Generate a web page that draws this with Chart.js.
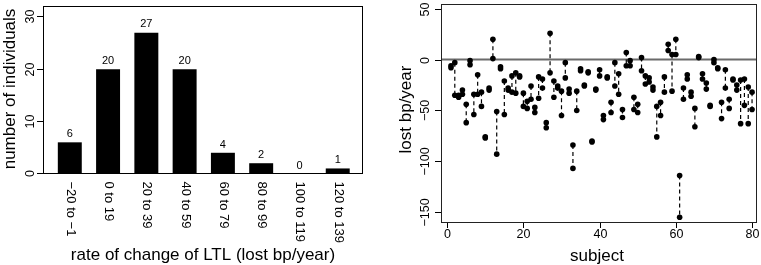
<!DOCTYPE html>
<html>
<head>
<meta charset="utf-8">
<script src="https://cdn.jsdelivr.net/npm/chart.js@4/dist/chart.umd.min.js"></script>
<style>
  html, body { margin: 0; padding: 0; background: #fff; }
  body { width: 761px; height: 265px; position: relative; overflow: hidden; }
  canvas { position: absolute; top: 0; }
  #left { left: 0; }
  #right { left: 380px; }
</style>
</head>
<body>
<canvas id="left" width="380" height="265"></canvas>
<canvas id="right" width="381" height="265"></canvas>
<script>
// ---------- data: left histogram ----------
const categories = ['\u221220 to \u22121', '0 to 19', '20 to 39', '40 to 59', '60 to 79', '80 to 99', '100 to 119', '120 to 139'];
const counts = [6, 20, 27, 20, 4, 2, 0, 1];
const countTicks = [0, 10, 20, 30];

// ---------- data: right scatter ----------
const subjects = [1,2,3,4,5,6,7,8,9,10,11,12,13,14,15,16,17,18,19,20,
  21,22,23,24,25,26,27,28,29,30,31,32,33,34,35,36,37,38,39,40,
  41,42,43,44,45,46,47,48,49,50,51,52,53,54,55,56,57,58,59,60,
  61,62,63,64,65,66,67,68,69,70,71,72,73,74,75,76,77,78,79,80];
const lostA = [-6,-3,-35,-30,-44,-1,-34,-15,-32,-76,-28,20,-51,-7,-21,-28,-16,-13,-16,-33,
  -41,-26,-47,-17,-19,-62,26,-21,-26,-31,-3,-29,-84,-31,-9,-25,-12,-80,-29,-10,
  -55,-17,-42,-3,-14,-49,7,-1,-37,-44,2,-16,-18,-27,-46,-42,-17,15,5,20,
  -114,-28,-15,-32,-48,3,-14,-23,-45,0,-8,-42,-10,-39,-19,-25,-20,-19,-27,-32];
const lostB = [-8,-35,-37,-34,-62,-5,-54,-34,-46,-77,-30,1,-93,-9,-54,-30,-32,-33,-17,-46,
  -48,-39,-52,-38,-28,-67,-13,-37,-28,-55,-18,-33,-107,-50,-11,-26,-13,-81,-30,-16,
  -59,-18,-52,-26,-34,-57,-6,-6,-49,-52,-11,-24,-22,-30,-76,-55,-32,9,-31,5,
  -155,-39,-19,-36,-66,2,-19,-29,-46,-3,-9,-58,-28,-48,-20,-30,-63,-45,-63,-49];
const lostTicks = [-150, -100, -50, 0, 50];
const subjectTicks = [0, 20, 40, 60, 80];

const FONT = '"Liberation Sans", Arial, Helvetica, sans-serif';
Chart.defaults.font.family = FONT;

function rotText(ctx, txt, x, y, ang, align, base) {
  ctx.save();
  ctx.translate(x, y);
  ctx.rotate(ang);
  ctx.textAlign = align;
  ctx.textBaseline = base;
  ctx.fillText(txt, 0, 0);
  ctx.restore();
}

// ---------- left chart ----------
const leftDecor = {
  id: 'leftDecor',
  afterDraw(chart) {
    const ctx = chart.ctx, a = chart.chartArea, xs = chart.scales.x, ys = chart.scales.y;
    ctx.save();
    ctx.strokeStyle = '#000';
    ctx.lineWidth = 1;
    ctx.strokeRect(Math.round(a.left) + 0.5, Math.round(a.top) + 0.5,
      Math.round(a.right - a.left) - 1, Math.round(a.bottom - a.top) - 1);
    ctx.fillStyle = '#000';
    // y ticks
    ctx.font = '12.5px ' + FONT;
    countTicks.forEach(t => {
      const y = Math.round(ys.getPixelForValue(t)) - 0.5;
      ctx.beginPath();
      ctx.moveTo(a.left - 6, y);
      ctx.lineTo(a.left, y);
      ctx.stroke();
      rotText(ctx, String(t), 31, y, -Math.PI / 2, 'center', 'middle');
    });
    // x category labels, rotated clockwise
    ctx.font = '13px ' + FONT;
    categories.forEach((c, i) => {
      const x = xs.getPixelForValue(i);
      rotText(ctx, c, x + 0.5, a.bottom + 7.5, Math.PI / 2, 'left', 'middle');
    });
    // value labels
    ctx.font = '11px ' + FONT;
    counts.forEach((v, i) => {
      const x = xs.getPixelForValue(i);
      const y = ys.getPixelForValue(v);
      ctx.textAlign = 'center';
      ctx.textBaseline = 'middle';
      ctx.fillText(String(v), x, y - 8.5);
    });
    // titles
    ctx.font = '17px ' + FONT;
    rotText(ctx, 'number of individuals', 10, 89, -Math.PI / 2, 'center', 'middle');
    ctx.textAlign = 'center';
    ctx.textBaseline = 'middle';
    ctx.fillText('rate of change of LTL (lost bp/year)', (a.left + a.right) / 2, 255);
    ctx.restore();
  }
};

new Chart(document.getElementById('left'), {
  type: 'bar',
  data: {
    datasets: [{
      data: counts.map((v, i) => ({ x: i, y: v })),
      backgroundColor: '#000',
      borderWidth: 0,
      barThickness: 23.3
    }]
  },
  options: {
    responsive: false,
    animation: false,
    events: [],
    layout: { padding: { left: 43, right: 17, top: 6, bottom: 91 } },
    plugins: { legend: { display: false }, tooltip: { enabled: false } },
    scales: {
      x: { type: 'linear', min: -0.7, max: 7.66, display: false, offset: false },
      y: { type: 'linear', min: 0, max: 32.16, display: false }
    }
  },
  plugins: [leftDecor]
});

// ---------- right chart ----------
const segPoints = [];
subjects.forEach((s, i) => {
  segPoints.push({ x: s, y: lostA[i] });
  segPoints.push({ x: s, y: lostB[i] });
  segPoints.push({ x: s, y: null });
});

const rightDecor = {
  id: 'rightDecor',
  beforeDatasetsDraw(chart) {
    const ctx = chart.ctx, a = chart.chartArea, ys = chart.scales.y;
    ctx.save();
    ctx.strokeStyle = '#6a6a6a';
    ctx.lineWidth = 2;
    const y0 = ys.getPixelForValue(0);
    ctx.beginPath();
    ctx.moveTo(a.left, y0);
    ctx.lineTo(a.right, y0);
    ctx.stroke();
    ctx.restore();
  },
  afterDraw(chart) {
    const ctx = chart.ctx, a = chart.chartArea, xs = chart.scales.x, ys = chart.scales.y;
    ctx.save();
    ctx.strokeStyle = '#222';
    ctx.lineWidth = 1;
    ctx.strokeRect(Math.round(a.left) + 0.5, Math.round(a.top) + 0.5,
      Math.round(a.right - a.left) - 1, Math.round(a.bottom - a.top) - 1);
    ctx.strokeStyle = '#000';
    ctx.fillStyle = '#000';
    ctx.font = '12.5px ' + FONT;
    lostTicks.forEach(t => {
      const y = Math.round(ys.getPixelForValue(t)) + 0.5;
      ctx.beginPath();
      ctx.moveTo(a.left - 6, y);
      ctx.lineTo(a.left, y);
      ctx.stroke();
      rotText(ctx, String(t).replace('-', '\u2212'), 46, y, -Math.PI / 2, 'center', 'middle');
    });
    subjectTicks.forEach(t => {
      const x = Math.round(xs.getPixelForValue(t)) + 0.5;
      ctx.beginPath();
      ctx.moveTo(x, a.bottom);
      ctx.lineTo(x, a.bottom + 5);
      ctx.stroke();
      ctx.textAlign = 'center';
      ctx.textBaseline = 'middle';
      ctx.fillText(String(t), x, 235);
    });
    ctx.font = '17px ' + FONT;
    rotText(ctx, 'lost bp/year', 26, (a.top + a.bottom) / 2 - 4, -Math.PI / 2, 'center', 'middle');
    ctx.textAlign = 'center';
    ctx.textBaseline = 'middle';
    ctx.fillText('subject', (a.left + a.right) / 2 - 2, 256);
    ctx.restore();
  }
};

new Chart(document.getElementById('right'), {
  type: 'scatter',
  data: {
    datasets: [
      {
        data: subjects.map((s, i) => ({ x: s, y: lostA[i] })),
        pointRadius: 2.8, pointBackgroundColor: '#000', pointBorderWidth: 0, order: 1
      },
      {
        data: subjects.map((s, i) => ({ x: s, y: lostB[i] })),
        pointRadius: 2.8, pointBackgroundColor: '#000', pointBorderWidth: 0, order: 1
      },
      {
        data: segPoints,
        showLine: true, spanGaps: false, pointRadius: 0,
        borderColor: '#000', borderWidth: 1.2, borderDash: [4, 3], order: 2
      }
    ]
  },
  options: {
    responsive: false,
    animation: false,
    events: [],
    layout: { padding: { left: 61, right: 2, top: 1, bottom: 42 } },
    plugins: { legend: { display: false }, tooltip: { enabled: false } },
    scales: {
      x: { type: 'linear', min: -1.62, max: 81.3, display: false },
      y: { type: 'linear', min: -160.7, max: 54.7, display: false }
    }
  },
  plugins: [rightDecor]
});
</script>
</body>
</html>
